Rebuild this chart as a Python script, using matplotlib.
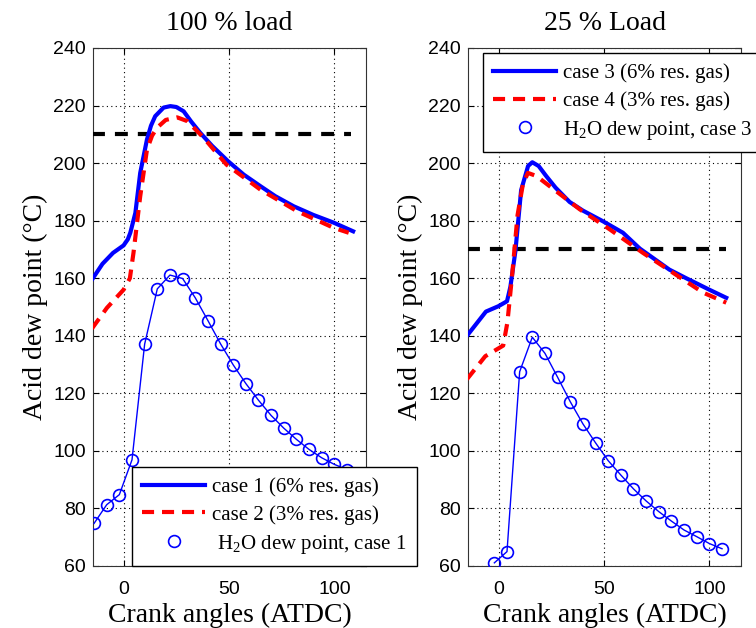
import matplotlib
matplotlib.use('Agg')
import matplotlib.pyplot as plt

plt.rcParams['font.family'] = ['Liberation Serif', 'DejaVu Serif']
plt.rcParams['mathtext.fontset'] = 'custom'
plt.rcParams['mathtext.rm'] = 'Liberation Serif'
plt.rcParams['mathtext.it'] = 'Liberation Serif:italic'

# ---- data ----
# 100 % load
case1_x = [-15, -10, -5, 0, 2, 3.2, 5.6, 7.9, 11.1, 13, 15, 19, 22.2, 25, 28.5, 32, 36.4, 42, 49.5, 57, 64.9, 72, 80.7, 90, 99.7, 108.9]
case1_y = [159.5, 165, 168.8, 171.4, 173.5, 175.8, 182.7, 196.6, 208.2, 213, 216.3, 219.3, 219.8, 219.5, 218, 214.5, 210.5, 206, 200.7, 196, 192, 188.5, 185, 182, 179.3, 176.3]
case2_x = [-15, -7.9, 0, 3, 4.7, 7.9, 11.1, 13.5, 15.9, 20, 25.4, 30.2, 38, 48.8, 64.9, 82.3, 99.7, 106.8]
case2_y = [142.5, 149.7, 156, 160, 168.8, 188.5, 204.7, 209.5, 212.3, 215, 215.9, 214.6, 208.8, 199.5, 190.8, 183.3, 177.5, 175.8]
h2o1_x = [-14, -8, -2, 4, 10, 16, 22, 28, 34, 40, 46, 52, 58, 64, 70, 76, 82, 88, 94, 100, 106]
h2o1_y = [74.8, 81.3, 84.8, 96.9, 137.1, 156.3, 161.1, 159.9, 153.2, 145.3, 137.2, 129.9, 123.4, 117.6,
          112.3, 107.9, 104, 100.5, 97.6, 95.3, 93.5]

# 25 % load
case3_x = [-15, -6, 0, 4, 5.6, 8, 10.7, 14, 16, 19, 22.6, 27, 33.7, 40, 49.5, 59, 67, 81, 89, 100, 108]
case3_y = [140, 148.4, 150.3, 152, 157, 169.5, 190.6, 199, 200.3, 199, 195.5, 191.5, 186.5, 183.5, 179.8, 175.8, 170.3, 163, 160, 156, 153.2]
case4_x = [-15, -6.3, 2.2, 4.2, 6.4, 9, 11.5, 13.9, 18, 24.2, 38.4, 52.7, 68.5, 87.5, 97, 108]
case4_y = [124.9, 132.9, 136.6, 144.7, 160.8, 181.9, 192.5, 196.6, 195.5, 192, 184, 177, 168.8, 159.6, 155, 151.5]
h2o3_x = [-2, 4, 10, 16, 22, 28, 34, 40, 46, 52, 58, 64, 70, 76, 82, 88, 94, 100, 106]
h2o3_y = [61.1, 65, 127.5, 139.5, 133.9, 125.6, 117.1, 109.4, 102.8, 96.6, 91.6, 86.8, 82.6, 78.9,
          75.6, 72.5, 70.2, 67.8, 66]

limit_x = [-15, 108]
limit_100 = 210
limit_25 = 170

xticks = [0, 50, 100]
yticks = list(range(60, 241, 20))

fig = plt.figure(figsize=(7.56, 6.28), dpi=100)
ax1 = fig.add_axes([93 / 756, 62 / 628, 273 / 756, 518 / 628])
ax2 = fig.add_axes([468 / 756, 62 / 628, 273 / 756, 518 / 628])


def draw(ax, cx, cy, dx, dy, hx, hy, limit, labels, title):
    ax.plot(limit_x, [limit, limit], color='black', lw=3, linestyle=(0, (3.1, 2.4)), zorder=3)
    ax.plot(cx, cy, color='#0000ff', lw=3, label=labels[0], zorder=4)
    ax.plot(dx, dy, color='#ff0000', lw=3, linestyle=(0, (2.9, 1.9)), label=labels[1], zorder=5)
    ax.plot(hx, hy, color='#0000ff', lw=1, zorder=4)
    ax.plot(hx, hy, 'o', color='#0000ff', mfc='none', ms=8.5, mew=1.2, label=labels[2], zorder=4)
    ax.set_xlim(-14.5, 115)
    ax.set_ylim(60, 240)
    ax.set_xticks(xticks)
    ax.set_yticks(yticks)
    ax.grid(True, color='black', linestyle=(0, (1, 3)), lw=0.8)
    ax.tick_params(direction='in', top=True, right=True, length=4, width=0.8, pad=5)
    ax.tick_params(axis='x', pad=10.5)
    for lab in ax.get_xticklabels() + ax.get_yticklabels():
        lab.set_fontfamily('Liberation Sans')
        lab.set_fontsize(14)
    for s in ax.spines.values():
        s.set_linewidth(0.8)
        s.set_color('#333333')
    ax.set_title(title, fontsize=20, pad=13)
    ax.set_xlabel('Crank angles (ATDC)', fontsize=20, labelpad=3.5)
    ax.set_ylabel('Acid dew point (\u00b0C)', fontsize=20, labelpad=4)


draw(ax1, case1_x, case1_y, case2_x, case2_y, h2o1_x, h2o1_y, limit_100,
     ['case 1 (6% res. gas)', 'case 2 (3% res. gas)', ' H$_{\\mathrm{2}}$O dew point, case 1'], '100 % load')
draw(ax2, case3_x, case3_y, case4_x, case4_y, h2o3_x, h2o3_y, limit_25,
     ['case 3 (6% res. gas)', 'case 4 (3% res. gas)', 'H$_{\\mathrm{2}}$O dew point, case 3'], '25 % Load')

leg_kw = dict(fontsize=15.0, handlelength=3.0, handletextpad=0.35, labelspacing=0.38,
              borderpad=0.5, borderaxespad=0, fancybox=False, framealpha=1, edgecolor='black')
l1 = ax1.legend(loc='lower left', bbox_to_anchor=(132 / 756, 62 / 628),
                bbox_transform=fig.transFigure, **leg_kw)
l2 = ax2.legend(loc='upper left', bbox_to_anchor=(483 / 756, 1 - 53 / 628),
                bbox_transform=fig.transFigure, **leg_kw)
for l in (l1, l2):
    l.get_frame().set_linewidth(1.0)
    l.set_zorder(10)

plt.savefig('out.png', dpi=100)
